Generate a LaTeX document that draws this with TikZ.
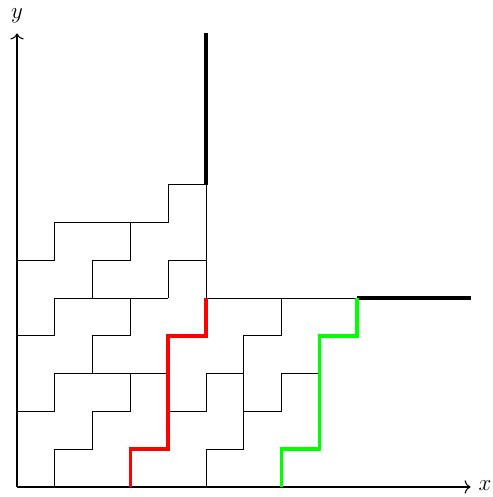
\documentclass[tikz,border=0pt]{standalone}
\usepackage{xcolor}
\usepackage{tikz}
\usetikzlibrary{arrows,arrows.meta,positioning,calc}
\tikzset{
    tileedge/.style={
        draw=black,
        line width=0.5pt
    },
    axisline/.style={
        -{To[length=4.5pt,width=10pt]},
        line width=0.8pt
    },
    axislabel/.style={
        font=\LARGE
    },
    boundary/.style={
        draw=black,
        line width=2.6pt
    },
    redpath/.style={
        draw=red,
        line width=2.6pt
    },
    greenpath/.style={
        draw=green,
        line width=2.6pt
    }
}

\begin{document}
\begin{tikzpicture}
\useasboundingbox (-0.45,-0.265) rectangle (12.566,12.883);

% axes
\coordinate (origin) at (0,0);
\coordinate (xend) at (12,0);
\coordinate (yend) at (0,12);
\draw[axisline] (origin) -- (xend);
\draw[axisline] (origin) -- (yend);
\node[axislabel] (xlabel) at (12.38,0.03) {$x$};
\node[axislabel] (ylabel) at (0,12.47) {$y$};

% tiles, left part
\draw[tileedge] (1,0) -- (1,1) -- (2,1) -- (2,2) -- (3,2) -- (3,3);
\draw[tileedge] (0,2) -- (1,2) -- (1,3) -- (4,3);
\draw[tileedge] (2,3) -- (2,4) -- (3,4) -- (3,5);
\draw[tileedge] (0,4) -- (1,4) -- (1,5) -- (4,5);
\draw[tileedge] (2,5) -- (2,6) -- (3,6) -- (3,7);
\draw[tileedge] (0,6) -- (1,6) -- (1,7) -- (4,7) -- (4,8) -- (5,8);
\draw[tileedge] (4,5) -- (4,6) -- (5,6);
\draw[tileedge] (4,2) -- (5,2) -- (5,3) -- (6,3) -- (6,4) -- (7,4) -- (7,5);
\draw[tileedge] (5,5) -- (5,8);

% tiles, right part
\draw[tileedge] (5,0) -- (5,1) -- (6,1) -- (6,3);
\draw[tileedge] (6,2) -- (7,2) -- (7,3) -- (8,3);
\draw[tileedge] (5,5) -- (9,5);

% boundary
\draw[boundary] (5,8) -- (5,12);
\draw[boundary] (9,5) -- (12,5);

% paths
\draw[redpath] (3,0) -- (3,1) -- (4,1) -- (4,4) -- (5,4) -- (5,5);
\draw[greenpath] (7,0) -- (7,1) -- (8,1) -- (8,4) -- (9,4) -- (9,5);
\end{tikzpicture}
\end{document}
